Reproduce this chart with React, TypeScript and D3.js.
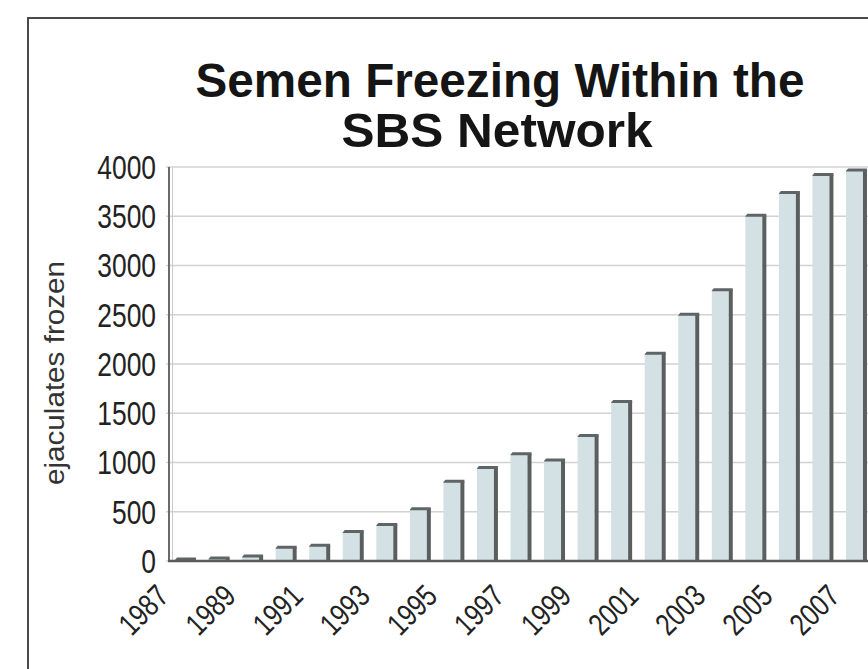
import React from 'react';
import { scaleBand, scaleLinear } from 'd3';

const years = [
  '1987', '1988', '1989', '1990', '1991', '1992', '1993', '1994', '1995', '1996', '1997',
  '1998', '1999', '2000', '2001', '2002', '2003', '2004', '2005', '2006', '2007',
];
const frozen = [
  20, 30, 50, 140, 160, 300, 370, 530, 810, 950, 1090,
  1025, 1275, 1620, 2110, 2505, 2755, 3510, 3740, 3925, 3970,
];
const yTicks = [0, 500, 1000, 1500, 2000, 2500, 3000, 3500, 4000];
const xLabels = ['1987', '1989', '1991', '1993', '1995', '1997', '1999', '2001', '2003', '2005', '2007'];

const W = 868;
const H = 669;
const font = '"Liberation Sans", Arial, Helvetica, sans-serif';
// the original uses a condensed face, squeeze the regular one
const narrow = 0.8;

const App = () => {
  const x = scaleBand<string>()
    .domain(years)
    .range([170, 872])
    .paddingInner(0.375)
    .paddingOuter(0.15);

  const y = scaleLinear()
    .domain([0, 4000])
    .range([561, 167]);

  const side = 4;
  const face = x.bandwidth() - side;

  return (
    <svg width={W} height={H} style={{ position: 'absolute', left: 0, top: 0, background: '#fff' }}>
      {/* frame */}
      <path d={`M28,${H} V18 H${W}`} fill="none" stroke="#4a4a4a" strokeWidth={2} />

      {/* title */}
      <text x={500} y={97} textAnchor="middle" fontFamily={font} fontWeight="bold" fontSize={48}
        textLength={609} lengthAdjust="spacingAndGlyphs" fill="#151515">
        Semen Freezing Within the
      </text>
      <text x={497} y={147} textAnchor="middle" fontFamily={font} fontWeight="bold" fontSize={48}
        textLength={311} lengthAdjust="spacingAndGlyphs" fill="#151515">
        SBS Network
      </text>

      {/* y axis label */}
      <text transform="translate(64,373) rotate(-90)" textAnchor="middle" fontFamily={font}
        fontSize={27} textLength={224} lengthAdjust="spacingAndGlyphs" fill="#333">
        ejaculates frozen
      </text>

      {/* gridlines */}
      {yTicks.map(t => (
        <line key={t} x1={166} x2={W} y1={y(t)} y2={y(t)} stroke="#d2d2d2" strokeWidth={1.5} />
      ))}

      {/* y tick labels */}
      {yTicks.map(t => (
        <text key={t} transform={`translate(156,${y(t)}) scale(${narrow},1)`} dy="0.36em"
          textAnchor="end" fontFamily={font} fontSize={33} fill="#222">
          {t}
        </text>
      ))}

      {/* wall / axis */}
      <line x1={169} x2={169} y1={167} y2={562} stroke="#6a6a6a" strokeWidth={2} />
      <line x1={172.5} x2={172.5} y1={168} y2={560} stroke="#c8c8c8" strokeWidth={1} />

      {/* bars */}
      {years.map((yr, i) => {
        const bx = x(yr) as number;
        const top = y(frozen[i]);
        return (
          <g key={yr}>
            <rect x={bx} y={top} width={face} height={561 - top} fill="#d3e1e4" />
            <rect x={bx + face} y={top} width={side} height={561 - top} fill="#5a5e5e" />
            <path d={`M${bx},${top + 1} L${bx + 2},${top - 1.5} H${bx + face + side} V${top + 1.5} H${bx} Z`}
              fill="#5f6464" />
          </g>
        );
      })}

      {/* floor */}
      <line x1={168} x2={W} y1={561} y2={561} stroke="#5a5a5a" strokeWidth={2.5} />

      {/* x tick labels */}
      {xLabels.map(yr => {
        const cx = (x(yr) as number) + x.bandwidth() / 2 - 15;
        return (
          <text key={yr} transform={`translate(${cx},598) rotate(-45) scale(${narrow},1)`} textAnchor="end"
            fontFamily={font} fontSize={31} fill="#222">
            {yr}
          </text>
        );
      })}
    </svg>
  );
};

export default App;
